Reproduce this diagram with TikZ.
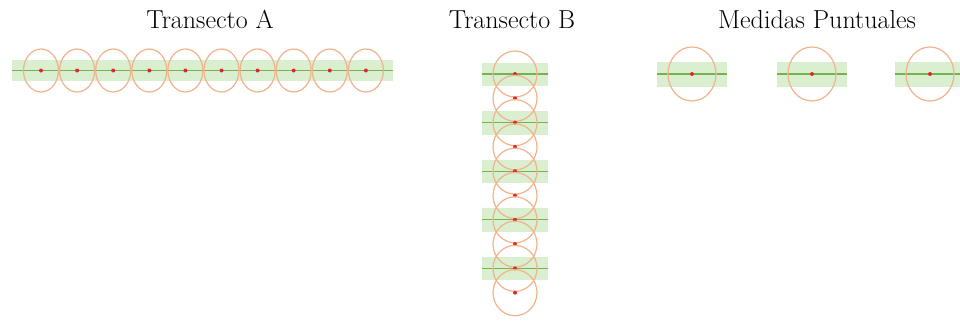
\documentclass[tikz,border=0pt]{standalone}
\definecolor{bandgreen}{RGB}{218,238,208}
\definecolor{linegreen}{RGB}{120,178,80}
\definecolor{ringorange}{RGB}{242,178,140}
\definecolor{dotred}{RGB}{225,40,40}
\begin{document}
\begin{tikzpicture}[x=1pt,y=-1pt,
  band/.style={fill=bandgreen,draw=none},
  axis/.style={draw=linegreen,line width=1.3pt},
  ring/.style={draw=ringorange,line width=1.2pt},
  spot/.style={circle,fill=dotred,inner sep=0pt,minimum size=4pt},
  title/.style={font=\fontsize{26}{28}\selectfont,anchor=base}]
\useasboundingbox (0,0) rectangle (960,324);

% titles
\node[title] (tA) at (210,28) {Transecto A};
\node[title] (tB) at (512,28) {Transecto B};
\node[title] (tC) at (817,28) {Medidas Puntuales};

% Transecto A
\fill[band] (12,60) rectangle (393,81);
\draw[axis] (12,70.5) -- (393,70.5);
\foreach \i in {0,...,9}{
  \draw[ring] (41+36.1*\i,70.5) ellipse (17.5 and 21.5);
  \node[spot] (a\i) at (41+36.1*\i,70.5) {};
}

% Transecto B
\foreach \i in {0,...,4}{
  \fill[band] (482,62.5+48.6*\i) rectangle (548,86+48.6*\i);
  \draw[axis] (482,74+48.6*\i) -- (548,74+48.6*\i);
}
\foreach \i in {0,...,9}{
  \draw[ring] (515,74+24.3*\i) ellipse (22 and 23);
  \node[spot] (b\i) at (515,74+24.3*\i) {};
}

% Medidas Puntuales
\foreach \x [count=\k] in {692,812,930}{
  \fill[band] (\x-35,62) rectangle (\x+35,87);
  \draw[axis] (\x-35,74) -- (\x+35,74);
  \draw[ring] (\x,74) ellipse (24 and 27);
  \node[spot] (c\k) at (\x,74) {};
}
\end{tikzpicture}
\end{document}
